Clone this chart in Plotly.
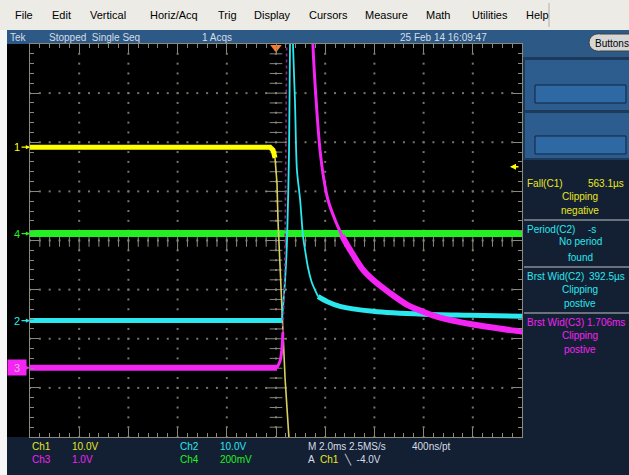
import numpy as np
import plotly.graph_objects as go

# ---------------- data (time in ms, 2 ms/div, trigger at 0; vertical in screen divisions) ----
ch1_t = [-10.0, -0.24, -0.12, -0.04, 0.04, 0.08, 0.20, 0.28, 0.37, 0.53, 0.62]
ch1_v = [1.90, 1.90, 1.84, 1.68, 1.17, 0.42, -0.80, -1.81, -2.82, -4.05, -5.0]

ch4_t = [-10.0, 10.0]
ch4_v = [0.14, 0.14]

ch2_t = [-10.0, 0.24, 0.37, 0.45, 0.53, 0.57, 0.61, 0.65, 0.69, 0.77, 0.85, 0.98, 1.10, 1.18,
         1.30, 1.46, 1.71, 2.07, 2.60, 3.94, 5.98, 7.89, 10.0]
ch2_v = [-1.63, -1.63, -0.80, 0.02, 1.84, 4.0, 4.9, 4.9, 4.0, 2.86, 1.44, 0.83, 0.08, -0.19,
         -0.55, -0.86, -1.14, -1.24, -1.34, -1.44, -1.50, -1.52, -1.54]

ch3_t = [-10.0, 0.04, 0.16, 0.24, 0.28, 0.33, 0.37, 0.41, 0.45, 1.46, 1.50, 1.63, 1.79, 1.95,
         2.11, 2.40, 2.68, 3.01, 3.54, 3.94, 4.63, 5.33, 5.98, 6.67, 8.01, 9.92, 10.0]
ch3_v = [-2.59, -2.59, -2.46, -2.22, -1.87, -1.20, 0.02, 4.0, 4.9, 4.9, 4.0, 2.86, 1.84, 1.23,
         0.83, 0.42, 0.10, -0.19, -0.60, -0.80, -1.07, -1.31, -1.45, -1.57, -1.71, -1.85, -1.85]

ch_offsets = {"1": 1.90, "4": 0.14, "2": -1.63, "3": -2.59}
trig_time = 0.0
trig_level_v = -4.0
ch1_volts_per_div = 10.0

menu_items = ["File", "Edit", "Vertical", "Horiz/Acq", "Trig", "Display", "Cursors",
              "Measure", "Math", "Utilities", "Help"]
menu_x = [13, 50, 88, 148, 216, 252, 307, 363, 424, 470, 524]

# ---------------- layout helpers ----------------
W, H = 629, 475
L, T, PW, PH = 30, 44, 492, 393          # plot area in window pixels
FONT = "Liberation Sans Narrow, Liberation Sans, Arial"

def px(x):
    return (x - L) / PW

def py(y):
    return (T + PH - y) / PH

YEL, GRN, CYN, MAG = "#ffff00", "#22f022", "#2ae8ee", "#f424f4"
GRID = "#8a8a7c"

def seg(t, v, t0, t1):
    tt, vv = [], []
    for a, b in zip(t, v):
        if t0 <= a <= t1:
            tt.append(a); vv.append(b)
    return tt, vv

fig = go.Figure()

# graticule dots
gx, gy = [], []
for xm in np.arange(-8, 8.01, 2):
    for yy in np.arange(-4, 4.001, 0.2):
        gx.append(xm); gy.append(yy)
for ym in np.arange(-3, 3.01, 1):
    for xx in np.arange(-10, 10.001, 0.4):
        gx.append(xx); gy.append(ym)
fig.add_trace(go.Scatter(x=gx, y=gy, mode="markers", hoverinfo="skip",
                         marker=dict(symbol="square", size=2, color="#77776c", line=dict(width=0))))
# centre crosshair ticks
yy = np.round(np.arange(-4, 4.001, 0.2), 3)
minor_y = [v for v in yy if abs(v - round(v)) > 1e-6]
major_y = [v for v in yy if abs(v - round(v)) < 1e-6 and abs(v) < 4]
fig.add_trace(go.Scatter(x=[0] * len(minor_y), y=minor_y, mode="markers", hoverinfo="skip",
                         marker=dict(symbol="line-ew", size=9, line=dict(width=1, color=GRID))))
fig.add_trace(go.Scatter(x=[0] * len(major_y), y=major_y, mode="markers", hoverinfo="skip",
                         marker=dict(symbol="line-ew", size=15, line=dict(width=1, color=GRID))))
xx = np.round(np.arange(-10, 10.001, 0.4), 3)
minor_x = [v for v in xx if abs(v / 2 - round(v / 2)) > 1e-6]
major_x = [v for v in xx if abs(v / 2 - round(v / 2)) < 1e-6 and abs(v) < 10]
fig.add_trace(go.Scatter(x=minor_x, y=[0] * len(minor_x), mode="markers", hoverinfo="skip",
                         marker=dict(symbol="line-ns", size=9, line=dict(width=1, color=GRID))))
fig.add_trace(go.Scatter(x=major_x, y=[0] * len(major_x), mode="markers", hoverinfo="skip",
                         marker=dict(symbol="line-ns", size=15, line=dict(width=1, color=GRID))))

def line(t, v, color, width, dash="solid", shape="linear"):
    fig.add_trace(go.Scatter(x=t, y=v, mode="lines", hoverinfo="skip",
                             line=dict(color=color, width=width, dash=dash, shape=shape,
                                       smoothing=0.8)))

# Ch4 green
line(ch4_t, ch4_v, GRN, 7)
# Ch1 yellow
line(*seg(ch1_t, ch1_v, -0.04, 99), "#d8d060", 1.6)
line(*seg(ch1_t, ch1_v, -99, -0.04), YEL, 5)
# Ch2 cyan
line(*seg(ch2_t, ch2_v, 0.24, 1.71), CYN, 1.8, shape="spline")
line(*seg(ch2_t, ch2_v, -99, 0.24), CYN, 5)
line(*seg(ch2_t, ch2_v, 1.71, 99), CYN, 5, shape="spline")
# Ch3 magenta
line(*seg(ch3_t, ch3_v, 0.28, 1.46), "#8a2a8a", 1.6, "dot")
line(*seg(ch3_t, ch3_v, 0.04, 0.28), MAG, 3, shape="spline")
line(*seg(ch3_t, ch3_v, 1.46, 2.68), MAG, 3, shape="spline")
line(*seg(ch3_t, ch3_v, 2.68, 99), MAG, 6, shape="spline")
line(*seg(ch3_t, ch3_v, -99, 0.04), MAG, 6)

# trigger position marker
fig.add_trace(go.Scatter(x=[trig_time], y=[3.93], mode="markers", hoverinfo="skip", cliponaxis=False,
                         marker=dict(symbol="triangle-down", size=10, color="#ff7a2a", line=dict(width=0))))

shapes = []
def rect(x0, y0, x1, y1, fill, lc=None, lw=0):
    shapes.append(dict(type="rect", xref="paper", yref="paper", x0=px(x0), x1=px(x1),
                       y0=py(y1), y1=py(y0), fillcolor=fill, layer="below",
                       line=dict(width=lw, color=lc or fill)))
def hline(x0, x1, y, color, w=1):
    shapes.append(dict(type="line", xref="paper", yref="paper", x0=px(x0), x1=px(x1),
                       y0=py(y), y1=py(y), line=dict(color=color, width=w), layer="above"))

rect(0, 0, 640, 30, "#ecebe6")
rect(-5, 30, 7, 480, "#f6f6f6")
rect(7, 30, 640, 44, "#2c5986")
rect(522, 44, 640, 160, "#1d3a5a")
rect(522, 44, 640, 57, "#2c5986")
rect(525, 60, 640, 110, "#2d5d8e")
rect(535, 85, 626, 103, "#2f69a4", "#102540", 1)
rect(525, 113, 640, 158, "#2d5d8e")
rect(535, 136, 626, 154, "#2f69a4", "#102540", 1)
rect(7, 44, 30, 437, "#000000")
shapes.append(dict(type="line", xref="paper", yref="paper", x0=px(549), x1=px(549),
                   y0=py(27), y1=py(3), line=dict(color="#b0b0b0", width=1)))
# Buttons oval
shapes.append(dict(type="circle", xref="paper", yref="paper", x0=px(589), x1=px(606),
                   y0=py(51), y1=py(34), fillcolor="#d6d6d6", line=dict(color="#404040", width=1)))
shapes.append(dict(type="path", xref="paper", yref="paper",
                   path="M {a},{b} L {c},{b} L {c},{d} L {a},{d} Z".format(
                       a=px(597), b=py(34), c=px(640), d=py(51)),
                   fillcolor="#d6d6d6", line=dict(color="#404040", width=1)))
shapes.append(dict(type="rect", xref="paper", yref="paper", x0=px(596), x1=px(600),
                   y0=py(50.4), y1=py(34.6), fillcolor="#d6d6d6", line=dict(width=0)))
for yy_ in (220, 267, 313):
    hline(524, 640, yy_, "#c0c6cc", 1)

ann = []
def text(x, y, s, color, size=10, xanchor="left", fam=FONT):
    ann.append(dict(xref="paper", yref="paper", x=px(x), y=py(y), text=s, showarrow=False,
                    xanchor=xanchor, yanchor="middle", font=dict(color=color, size=size, family=fam)))

for name, x in zip(menu_items, menu_x):
    text(x, 15, name, "#000000", 11, fam="Liberation Sans, Arial")
ST = "#d6dde6"
text(8, 37, "Tek", ST)
text(47, 37, "Stopped  Single Seq", ST)
text(200, 37, "1 Acqs", ST)
text(398, 37, "25 Feb 14 16:09:47", ST)
text(593, 43, "Buttons", "#000000", 10)

# measurements
MY = "#e8e820"
text(525, 183, "Fall(C1)", MY)
text(626, 183, "563.1µs", MY, xanchor="right")
text(580, 196, "Clipping", MY, xanchor="center")
text(580, 210, "negative", MY, xanchor="center")
text(525, 229, "Period(C2)", CYN)
text(586, 229, "-s", CYN)
text(580, 242, "No period", CYN, xanchor="center")
text(580, 257, "found", CYN, xanchor="center")
text(525, 276, "Brst Wid(C2)", CYN)
text(627, 276, "392.5µs", CYN, xanchor="right")
text(580, 289, "Clipping", CYN, xanchor="center")
text(580, 303, "postive", CYN, xanchor="center")
text(525, 322, "Brst Wid(C3)", MAG)
text(627, 322, "1.706ms", MAG, xanchor="right")
text(580, 335, "Clipping", MAG, xanchor="center")
text(580, 349, "postive", MAG, xanchor="center")

# bottom readout
text(30, 447, "Ch1", MY); text(70, 447, "10.0V", MY)
text(30, 460, "Ch3", MAG); text(70, 460, "1.0V", MAG)
text(178, 447, "Ch2", CYN); text(218, 447, "10.0V", CYN)
text(178, 460, "Ch4", GRN); text(218, 460, "200mV", GRN)
text(306, 447, "M 2.0ms 2.5MS/s", ST)
text(410, 447, "400ns/pt", ST)
text(306, 460, "A", ST); text(318, 460, "Ch1", MY); text(342, 460, "\u2572  -4.0V", ST)

# channel ground markers
for name, col in (("1", YEL), ("4", GRN), ("2", CYN)):
    ann.append(dict(xref="paper", yref="y", x=0, y=ch_offsets[name], text=name, showarrow=True,
                    ax=-13, ay=0, arrowhead=2, arrowsize=0.7, arrowwidth=1.2, arrowcolor=col,
                    font=dict(color=col, size=11, family=FONT)))
ann.append(dict(xref="paper", yref="y", x=0, y=ch_offsets["3"], text="3", showarrow=True,
                ax=-13, ay=0, arrowhead=2, arrowsize=0.7, arrowwidth=1.2, arrowcolor=MAG,
                bgcolor=MAG, width=16, height=13, font=dict(color="#e8b0e8", size=11, family=FONT)))
# trigger level arrow on right
trig_div = ch_offsets["1"] + trig_level_v / ch1_volts_per_div
ann.append(dict(xref="paper", yref="y", x=px(510), y=trig_div, text="", showarrow=True,
                ax=10, ay=0, arrowhead=2, arrowsize=0.8, arrowwidth=1.5, arrowcolor=YEL))

fig.update_layout(
    width=W, height=H,
    margin=dict(l=L, r=W - L - PW, t=T, b=H - T - PH, pad=0),
    paper_bgcolor="#131f33", plot_bgcolor="#000000", showlegend=False,
    shapes=shapes, annotations=ann,
    xaxis=dict(range=[-10, 10], dtick=2, tick0=0, showgrid=False, zeroline=False,
               showticklabels=False, ticks="inside", ticklen=9, tickcolor=GRID, tickwidth=1,
               showline=True, linecolor=GRID, linewidth=1, mirror="ticks",
               minor=dict(ticks="inside", dtick=0.4, ticklen=4, tickcolor=GRID, showgrid=False),
               fixedrange=True),
    yaxis=dict(range=[-4, 4], dtick=1, tick0=0, showgrid=False, zeroline=False,
               showticklabels=False, ticks="inside", ticklen=9, tickcolor=GRID, tickwidth=1,
               showline=True, linecolor=GRID, linewidth=1, mirror="ticks",
               minor=dict(ticks="inside", dtick=0.2, ticklen=4, tickcolor=GRID, showgrid=False),
               fixedrange=True),
)
fig.write_html("out.html", config={"displayModeBar": False},
               post_script="document.body.style.margin='0';document.body.style.overflow='hidden';")
